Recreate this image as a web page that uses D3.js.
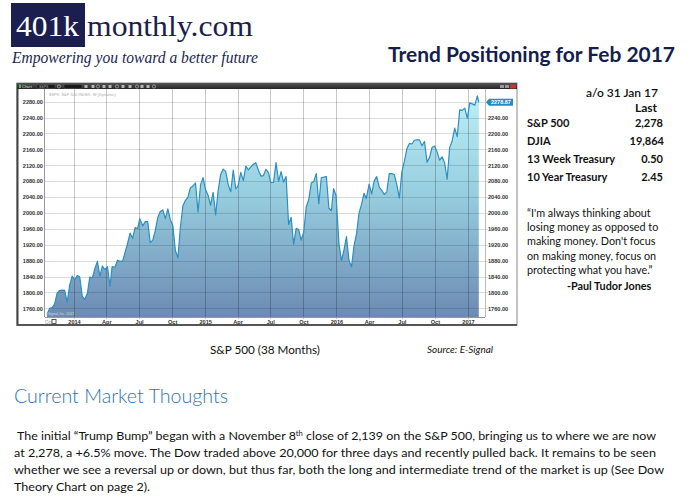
<!DOCTYPE html>
<html><head><meta charset="utf-8">
<script src="https://cdn.jsdelivr.net/npm/d3@7"></script>
<style>body{margin:0;background:#fff}svg{display:block}</style>
</head><body><svg id="c" width="700" height="503"></svg>
<script>
// ---------- DATA ----------
const weekDates = [
"2013-10-18","2013-10-25","2013-11-01","2013-11-08","2013-11-15","2013-11-22","2013-11-29","2013-12-06","2013-12-13","2013-12-20","2013-12-27",
"2014-01-03","2014-01-10","2014-01-17","2014-01-24","2014-01-31","2014-02-07","2014-02-14","2014-02-21","2014-02-28","2014-03-07","2014-03-14","2014-03-21","2014-03-28",
"2014-04-04","2014-04-11","2014-04-17","2014-04-25","2014-05-02","2014-05-09","2014-05-16","2014-05-23","2014-05-30","2014-06-06","2014-06-13","2014-06-20","2014-06-27",
"2014-07-03","2014-07-11","2014-07-18","2014-07-25","2014-08-01","2014-08-08","2014-08-15","2014-08-22","2014-08-29","2014-09-05","2014-09-12","2014-09-19","2014-09-26",
"2014-10-03","2014-10-10","2014-10-17","2014-10-24","2014-10-31","2014-11-07","2014-11-14","2014-11-21","2014-11-28","2014-12-05","2014-12-12","2014-12-19","2014-12-26",
"2015-01-02","2015-01-09","2015-01-16","2015-01-23","2015-01-30","2015-02-06","2015-02-13","2015-02-20","2015-02-27","2015-03-06","2015-03-13","2015-03-20","2015-03-27",
"2015-04-02","2015-04-10","2015-04-17","2015-04-24","2015-05-01","2015-05-08","2015-05-15","2015-05-22","2015-05-29","2015-06-05","2015-06-12","2015-06-19","2015-06-26",
"2015-07-02","2015-07-10","2015-07-17","2015-07-24","2015-07-31","2015-08-07","2015-08-14","2015-08-21","2015-08-28","2015-09-04","2015-09-11","2015-09-18","2015-09-25",
"2015-10-02","2015-10-09","2015-10-16","2015-10-23","2015-10-30","2015-11-06","2015-11-13","2015-11-20","2015-11-27","2015-12-04","2015-12-11","2015-12-18","2015-12-24","2015-12-31",
"2016-01-08","2016-01-15","2016-01-22","2016-01-29","2016-02-05","2016-02-12","2016-02-19","2016-02-26","2016-03-04","2016-03-11","2016-03-18","2016-03-24",
"2016-04-01","2016-04-08","2016-04-15","2016-04-22","2016-04-29","2016-05-06","2016-05-13","2016-05-20","2016-05-27","2016-06-03","2016-06-10","2016-06-17","2016-06-24",
"2016-07-01","2016-07-08","2016-07-15","2016-07-22","2016-07-29","2016-08-05","2016-08-12","2016-08-19","2016-08-26","2016-09-02","2016-09-09","2016-09-16","2016-09-23","2016-09-30",
"2016-10-07","2016-10-14","2016-10-21","2016-10-28","2016-11-04","2016-11-11","2016-11-18","2016-11-25","2016-12-02","2016-12-09","2016-12-16","2016-12-23","2016-12-30",
"2017-01-06","2017-01-13","2017-01-20","2017-01-27","2017-01-31"];
const closes = [
1744.5,1759.8,1761.6,1770.6,1798.2,1804.8,1805.8,1805.1,1775.3,1818.3,1841.4,
1831.4,1842.4,1838.7,1790.3,1782.6,1797.0,1838.6,1836.3,1859.5,1878.0,1841.1,1866.5,1857.6,
1865.1,1815.7,1864.9,1863.4,1881.1,1878.5,1877.9,1900.5,1923.6,1949.4,1936.2,1962.9,1960.9,
1985.4,1967.6,1978.2,1978.3,1925.2,1931.6,1955.1,1988.4,2003.4,2007.7,1985.5,2010.4,1982.9,
1967.9,1906.1,1886.8,1964.6,2018.1,2031.9,2039.8,2063.5,2067.6,2075.4,2002.3,2070.7,2088.8,
2058.2,2044.8,2019.4,2051.8,1995.0,2055.5,2097.0,2110.3,2104.5,2071.3,2053.4,2108.1,2061.0,
2067.0,2102.1,2081.2,2117.7,2108.3,2116.1,2122.7,2126.1,2107.4,2092.8,2094.1,2110.0,2101.5,
2076.8,2076.6,2126.6,2079.7,2104.0,2077.6,2091.5,1970.9,1988.9,1921.2,1961.1,1958.1,1931.3,
1951.4,2014.9,2033.1,2075.2,2079.4,2099.2,2023.0,2089.2,2090.1,2091.7,2012.4,2005.6,2061.0,2043.9,
1922.0,1880.3,1906.9,1940.2,1880.1,1864.8,1917.8,1948.1,2000.0,2022.2,2049.6,2035.9,
2072.8,2047.6,2080.7,2091.6,2065.3,2057.1,2046.6,2052.3,2099.1,2099.1,2096.1,2071.2,2037.4,
2103.0,2129.9,2161.7,2175.0,2173.6,2182.9,2184.1,2183.9,2169.0,2180.0,2128.0,2139.2,2164.7,2168.3,
2153.7,2133.0,2141.2,2126.4,2085.2,2164.5,2181.9,2213.4,2192.0,2259.5,2258.1,2263.8,2238.8,
2277.0,2274.6,2271.3,2294.7,2278.87];
const lastLabel = "2278.87";
const yTicks = [1760,1800,1840,1880,1920,1960,2000,2040,2080,2120,2160,2200,2240,2280];
const xTickDates = ["2014-01-01","2014-04-01","2014-07-01","2014-10-01","2015-01-01","2015-04-01","2015-07-01","2015-10-01","2016-01-01","2016-04-01","2016-07-01","2016-10-01","2017-01-01"];
const xTickLabels = ["2014","Apr","Jul","Oct","2015","Apr","Jul","Oct","2016","Apr","Jul","Oct","2017"];
const statLabels = ["S&P 500","DJIA","13 Week Treasury","10 Year Treasury"];
const statValues = ["2,278","19,864","0.50","2.45"];
const quoteLines = ["\u201CI'm always thinking about","losing money as opposed to","making money. Don't focus","on making money, focus on","protecting what you have.\u201D"];
const quoteAuthor = "-Paul Tudor Jones";
const bodyLines = [
 ["The initial \u201CTrump Bump\u201D began with a November 8","th"," close of 2,139 on the S&P 500, bringing us to where we are now"],
 ["at 2,278, a +6.5% move.  The Dow traded above 20,000 for three days and recently pulled back.  It remains to be seen"],
 ["whether we see a reversal up or down, but thus far, both the long and intermediate trend of the market is up (See Dow"],
 ["Theory Chart on page 2)."]];

// ---------- DRAW ----------
const svg = d3.select("#c");
svg.append("rect").attr("width",700).attr("height",503).attr("fill","#fff");
const navy = "#1b1f4f";
const sans = "Lato, 'Open Sans', sans-serif";

// Header logo
svg.append("rect").attr("x",11).attr("y",3).attr("width",74).attr("height",44).attr("fill",navy);
svg.append("text").attr("x",16).attr("y",36).attr("font-family","'Liberation Serif', serif").attr("font-size",29)
  .attr("fill","#fff").attr("textLength",63).attr("lengthAdjust","spacingAndGlyphs").text("401k");
svg.append("text").attr("x",87).attr("y",36).attr("font-family","'Liberation Serif', serif").attr("font-size",29)
  .attr("fill",navy).attr("textLength",166).attr("lengthAdjust","spacingAndGlyphs").text("monthly.com");
svg.append("text").attr("x",12).attr("y",63).attr("font-family","'Liberation Serif', serif").attr("font-style","italic").attr("font-size",16.5)
  .attr("fill",navy).attr("textLength",246).attr("lengthAdjust","spacingAndGlyphs").text("Empowering you toward a better future");
svg.append("text").attr("x",388).attr("y",62).attr("font-family",sans).attr("font-weight",700).attr("font-size",21)
  .attr("fill","#13204d").attr("textLength",287).attr("lengthAdjust","spacingAndGlyphs").text("Trend Positioning for Feb 2017");

// Chart frame
const fx0=17, fx1=517, fy0=83, fy1=325;
const px0=45, px1=485, py0=89, py1=317;
svg.append("rect").attr("x",fx0).attr("y",fy0).attr("width",fx1-fx0).attr("height",fy1-fy0)
  .attr("fill","#fff").attr("stroke","#8a8a8a").attr("stroke-width",1);
svg.append("line").attr("x1",fx0+0.5).attr("x2",fx0+0.5).attr("y1",fy0).attr("y2",fy1+1).attr("stroke","#444").attr("stroke-width",2);
svg.append("line").attr("x1",fx0).attr("x2",fx1).attr("y1",fy1).attr("y2",fy1).attr("stroke","#555").attr("stroke-width",2);

// toolbar
const tbGrad = svg.append("defs").append("linearGradient").attr("id","tb").attr("x1",0).attr("x2",0).attr("y1",0).attr("y2",1);
tbGrad.append("stop").attr("offset",0).attr("stop-color","#555");
tbGrad.append("stop").attr("offset",1).attr("stop-color","#262626");
svg.append("rect").attr("x",fx0).attr("y",fy0).attr("width",fx1-fx0).attr("height",py0-fy0).attr("fill","url(#tb)");
svg.append("rect").attr("x",19).attr("y",84.5).attr("width",2).attr("height",3.5).attr("fill","#3c3");
svg.append("text").attr("x",22).attr("y",88).attr("font-family","Arial, sans-serif").attr("font-size",4).attr("fill","#ddd").text("Chart");
[[37,18],[64,18]].forEach(([bx,bw])=>{
  svg.append("rect").attr("x",bx).attr("y",84.5).attr("width",bw).attr("height",4).attr("fill","#1a1a1a").attr("stroke","#666").attr("stroke-width",0.4);
});
svg.append("text").attr("x",39).attr("y",88).attr("font-family","Arial").attr("font-size",3.5).attr("fill","#bbb").text("SSPX");
[59,86,93,98,104,110,117,123,130,137,142,148,154].forEach((ix,i)=>{
  if(i%3===0) svg.append("circle").attr("cx",ix).attr("cy",86.5).attr("r",1.6).attr("fill","none").attr("stroke","#ccc").attr("stroke-width",0.6);
  else svg.append("rect").attr("x",ix-1.5).attr("y",85).attr("width",3).attr("height",3).attr("fill","#ccc").attr("opacity",0.85);
});
svg.append("rect").attr("x",500).attr("y",85).attr("width",4).attr("height",3).attr("fill","#999");
svg.append("rect").attr("x",505).attr("y",85).attr("width",4).attr("height",3).attr("fill","#999");
svg.append("rect").attr("x",510).attr("y",84.5).attr("width",6).attr("height",4).attr("fill","#c33");

// scales
const parse = d3.timeParse("%Y-%m-%d");
const data = weekDates.map((d,i)=>({date:parse(d), v:closes[i]}));
const x = d3.scaleTime().domain([parse("2014-01-01"),parse("2017-01-01")]).range([74,468]);
const y = d3.scaleLinear().domain([1760,2280]).range([308.3,101.7]);

// fill gradient
const g = svg.select("defs").append("linearGradient").attr("id","ag").attr("gradientUnits","userSpaceOnUse")
  .attr("x1",0).attr("x2",0).attr("y1",py0).attr("y2",py1);
g.append("stop").attr("offset",0).attr("stop-color","#bdf1f7");
g.append("stop").attr("offset",0.45).attr("stop-color","#98cfe0");
g.append("stop").attr("offset",1).attr("stop-color","#6c8bb3");

// area
const area = d3.area().x(d=>x(d.date)).y0(py1).y1(d=>y(d.v)).curve(d3.curveLinear);
svg.append("path").datum(data).attr("d",area).attr("fill","url(#ag)");

// gridlines on top
const grid = svg.append("g");
grid.selectAll("line.h").data(yTicks).join("line").attr("class","h")
  .attr("x1",px0).attr("x2",px1+3).attr("y1",d=>Math.round(y(d))+0.5).attr("y2",d=>Math.round(y(d))+0.5)
  .attr("stroke","#000").attr("stroke-opacity",0.14).attr("stroke-width",1);
grid.selectAll("line.v").data(xTickDates).join("line").attr("class","v")
  .attr("x1",d=>Math.round(x(parse(d)))+0.5).attr("x2",d=>Math.round(x(parse(d)))+0.5).attr("y1",py0).attr("y2",py1+2)
  .attr("stroke","#000").attr("stroke-opacity",0.22).attr("stroke-width",1);

// line
const line = d3.line().x(d=>x(d.date)).y(d=>y(d.v));
svg.append("path").datum(data).attr("d",line).attr("fill","none").attr("stroke","#2a8fc3").attr("stroke-width",1.2).attr("stroke-linejoin","round");

// plot borders
svg.append("line").attr("x1",px0-0.5).attr("x2",px0-0.5).attr("y1",py0).attr("y2",py1).attr("stroke","#999");
svg.append("line").attr("x1",px0).attr("x2",px1).attr("y1",py1+0.5).attr("y2",py1+0.5).attr("stroke","#999");
svg.append("line").attr("x1",px1+0.5).attr("x2",px1+0.5).attr("y1",py0).attr("y2",py1).attr("stroke","#bbb");

// axes
const axFont = "'Liberation Sans', Arial, sans-serif";
const yl = d3.axisLeft(y).tickValues(yTicks).tickFormat(d3.format(".2f")).tickSize(0).tickPadding(2);
const gl = svg.append("g").attr("transform",`translate(${px0},0)`).call(yl);
const yr = d3.axisRight(y).tickValues(yTicks.filter(t=>t<2280)).tickFormat(d3.format(".2f")).tickSize(0).tickPadding(3);
const gr = svg.append("g").attr("transform",`translate(${px1},0)`).call(yr);
const xa = d3.axisBottom(x).tickValues(xTickDates.map(parse)).tickFormat((d,i)=>xTickLabels[i]).tickSize(0).tickPadding(3);
const gx = svg.append("g").attr("transform",`translate(0,${py1})`).call(xa);
[gl,gr,gx].forEach(a=>{
  a.select(".domain").remove();
  a.selectAll("text").attr("font-family",axFont).attr("font-size",5.6).attr("font-weight","bold").attr("fill","#333");
});
svg.append("text").attr("x",45).attr("y",324).attr("font-family",axFont).attr("font-size",4.5).attr("fill","#999").text("Oct");
svg.append("rect").attr("x",52).attr("y",319.5).attr("width",4).attr("height",4).attr("fill","none").attr("stroke","#333").attr("stroke-width",0.8);

// small labels inside plot
svg.append("text").attr("x",49).attr("y",96).attr("font-family",axFont).attr("font-size",4).attr("fill","#aaa").text("$SPX, S&P 500 INDEX, W (Dynamic)");
svg.append("text").attr("x",46).attr("y",315).attr("font-family",axFont).attr("font-size",3.5).attr("fill","#ddd").text("eSignal, Inc. 2017");

// last value label
const ly = y(closes[closes.length-1]);
svg.append("path").attr("d",`M${px1+1},${ly} L${px1+4},${ly-3.5} L${px1+28},${ly-3.5} L${px1+28},${ly+3.5} L${px1+4},${ly+3.5} Z`).attr("fill","#1e8ccb");
svg.append("text").attr("x",px1+6).attr("y",ly+2).attr("font-family",axFont).attr("font-size",5.5).attr("font-weight","bold").attr("fill","#fff").text(lastLabel);

// right panel
svg.append("text").attr("x",586).attr("y",97).attr("font-family",sans).attr("font-size",12).attr("font-weight",600).attr("fill","#111")
  .attr("textLength",72).attr("lengthAdjust","spacingAndGlyphs").text("a/o 31 Jan 17");
svg.append("text").attr("x",657).attr("y",112).attr("text-anchor","end").attr("font-family",sans).attr("font-size",12).attr("font-weight",700).attr("fill","#111").text("Last");
const statY = [127,145,163,181];
svg.selectAll("text.sl").data(statLabels).join("text").attr("class","sl")
  .attr("x",527).attr("y",(d,i)=>statY[i]).attr("font-family",sans).attr("font-size",11).attr("font-weight",700).attr("fill","#111").text(d=>d);
svg.selectAll("text.sv").data(statValues).join("text").attr("class","sv")
  .attr("x",(d,i)=>i===1?664:663).attr("y",(d,i)=>statY[i]).attr("text-anchor","end").attr("font-family",sans).attr("font-size",11).attr("font-weight",700).attr("fill","#111").text(d=>d);
svg.selectAll("text.q").data(quoteLines).join("text").attr("class","q")
  .attr("x",527).attr("y",(d,i)=>217+i*14.2).attr("font-family",sans).attr("font-size",10.8).attr("fill","#111").text(d=>d);
svg.append("text").attr("x",567).attr("y",290).attr("font-family",sans).attr("font-size",10.8).attr("font-weight",700).attr("fill","#111").text(quoteAuthor);

// caption
svg.append("text").attr("x",210).attr("y",354).attr("font-family",sans).attr("font-size",11.5).attr("fill","#111")
  .attr("textLength",110).attr("lengthAdjust","spacingAndGlyphs").text("S&P 500 (38 Months)");
svg.append("text").attr("x",427).attr("y",353).attr("font-family",sans).attr("font-size",9).attr("font-style","italic").attr("fill","#111")
  .attr("textLength",66).attr("lengthAdjust","spacingAndGlyphs").text("Source: E-Signal");

// heading
svg.append("text").attr("x",14).attr("y",403).attr("font-family",sans).attr("font-weight",300).attr("font-size",19).attr("fill","#2e74b5")
  .attr("textLength",214).attr("lengthAdjust","spacingAndGlyphs").text("Current Market Thoughts");

// body
const bodyX=[17,14,14,14], bodyW=[639,642,650,136];
bodyLines.forEach((parts,i)=>{
  const t = svg.append("text").attr("x",bodyX[i]).attr("y",440+i*17).attr("font-family",sans).attr("font-size",12.3).attr("fill","#111")
    .attr("textLength",bodyW[i]).attr("lengthAdjust","spacingAndGlyphs");
  parts.forEach((p,j)=>{
    const ts = t.append("tspan").text(p);
    if(parts.length===3 && j===1) ts.attr("font-size",7.5).attr("dy",-4);
    if(parts.length===3 && j===2) ts.attr("dy",4);
  });
});
</script></body></html>
